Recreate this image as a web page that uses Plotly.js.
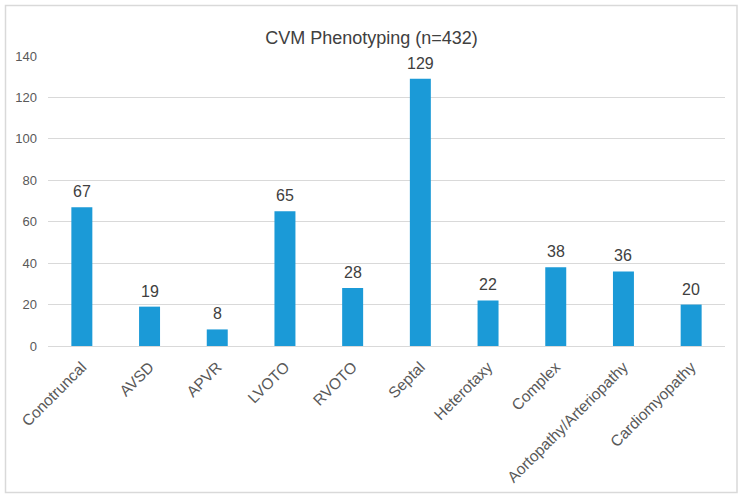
<!DOCTYPE html>
<html>
<head>
<meta charset="utf-8">
<script src="https://cdn.plot.ly/plotly-3.0.1.min.js"></script>
<style>
html,body{margin:0;padding:0;background:#fff;}
#chart{width:743px;height:499px;}
</style>
</head>
<body>
<div id="chart"></div>
<script>
const categories = ["Conotruncal","AVSD","APVR","LVOTO","RVOTO","Septal","Heterotaxy","Complex","Aortopathy/Arteriopathy","Cardiomyopathy"];
const counts = [67,19,8,65,28,129,22,38,36,20];
const yTicks = [0,20,40,60,80,100,120,140];
const titleText = "CVM Phenotyping (n=432)";

const trace = {
  type: "bar",
  x: categories,
  y: counts,
  marker: {color: "#1b9ad7"},
  hoverinfo: "x+y"
};

const annotations = categories.map((c, i) => ({
  x: c, y: counts[i], xref: "x", yref: "y",
  text: String(counts[i]),
  showarrow: false, yanchor: "bottom", yshift: 5,
  font: {family: "Liberation Sans, Arial, sans-serif", size: 16, color: "#404040"}
}));

const layout = {
  width: 743, height: 499,
  margin: {l: 48, r: 18, t: 56, b: 153},
  paper_bgcolor: "#ffffff",
  plot_bgcolor: "#ffffff",
  title: {
    text: titleText,
    x: 0.5, xanchor: "center",
    y: 1 - 38/499, yanchor: "middle",
    font: {family: "Liberation Sans, Arial, sans-serif", size: 18, color: "#404040"}
  },
  bargap: 0.69,
  showlegend: false,
  xaxis: {
    type: "category",
    tickangle: -45,
    tickfont: {family: "Liberation Sans, Arial, sans-serif", size: 15.5, color: "#595959"},
    showgrid: false,
    showline: false,
    zeroline: false,
    ticks: "",
    ticklabelstandoff: 8
  },
  yaxis: {
    range: [0, 140],
    tickvals: yTicks,
    ticktext: yTicks.map(String),
    tickfont: {family: "Liberation Sans, Arial, sans-serif", size: 13, color: "#595959"},
    showgrid: true,
    gridcolor: "#d9d9d9",
    gridwidth: 1,
    zeroline: true,
    zerolinecolor: "#d9d9d9",
    zerolinewidth: 1,
    showline: false,
    ticks: "",
    ticklabelstandoff: 10
  },
  annotations: annotations,
  shapes: [{
    type: "rect", xref: "paper", yref: "paper",
    x0: (5.5 - 48) / 677, x1: (737 - 48) / 677,
    y0: (346 - 492.5) / 290, y1: (346 - 5.5) / 290,
    line: {color: "#d9d9d9", width: 1.5},
    fillcolor: "rgba(0,0,0,0)",
    layer: "above"
  }]
};

Plotly.newPlot("chart", [trace], layout, {displayModeBar: false, staticPlot: true});
</script>
</body>
</html>
